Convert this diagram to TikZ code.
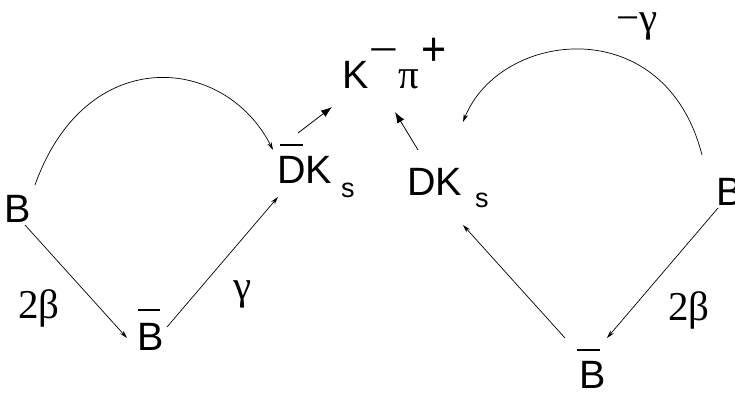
\documentclass[tikz,border=0pt]{standalone}
\usepackage{fontspec}
\setmainfont{Liberation Sans}
\newfontfamily\grk{Liberation Serif}
\usetikzlibrary{calc,arrows.meta}
\tikzset{
  lbl/.style={inner sep=0pt,outer sep=0pt,anchor=base west,font=\fontsize{39.5}{42}\selectfont},
  sub/.style={inner sep=0pt,outer sep=0pt,anchor=base west,font=\fontsize{27}{29}\selectfont},
  greek/.style={inner sep=0pt,outer sep=0pt,font=\grk\fontsize{41}{43}\selectfont},
  arr/.style={line width=0.7pt,-{Stealth[length=8pt,width=4.5pt]}},
  bigarr/.style={line width=0.8pt,-{Latex[length=11pt,width=8pt]}},
  bar/.style={line width=1.3pt}
}
\begin{document}
\begin{tikzpicture}[x=1pt,y=-1pt]
\clip (0,0) rectangle (735,392);
% nodes
\node[lbl] (Bl) at (5,222) {B};
\node[lbl] (Bbl) at (137,350) {B};
\node[lbl] (DKl) at (277,183) {DK};
\node[sub] (sl) at (341,197) {s};
\node[lbl] (DKr) at (407,195) {DK};
\node[sub] (sr) at (475,207) {s};
\node[lbl] (Kn) at (342,88) {K};
\node[inner sep=0pt,font=\fontsize{40}{42}\selectfont] (mn) at (383.5,55) {\scalebox{1.25}[0.8]{−}};
\node[lbl,font=\grk\fontsize{41}{43}\selectfont] (pin) at (398,88) {π};
\node[inner sep=0pt,font=\fontsize{43}{45}\selectfont] (pl) at (434,52) {\scalebox{1}[1.1]{+}};
\node[lbl] (Br) at (716,205) {B};
\node[lbl] (Bbr) at (579,388) {B};
\node[greek] (tbl) at (39,308) {2β};
\node[greek] (gl) at (243,294) {γ};
\node[greek] (mg) at (637,26) {−γ};
\node[greek] (tbr) at (689,310) {2β};
% bars
\draw[bar] ($(Bbl.base west)+(1,-40)$) -- ($(Bbl.base west)+(23,-40)$);
\draw[bar] ($(DKl.base west)+(3,-38)$) -- ($(DKl.base west)+(26,-38)$);
\draw[bar] ($(Bbr.base west)+(-2,-38)$) -- ($(Bbr.base west)+(21,-38)$);
% connectors left
\draw[arr] ($(Bl.base west)+(20,3)$) -- ($(Bbl.base west)+(-10,-12)$);
\draw[arr] ($(Bbl.base west)+(30,-23)$) -- ($(DKl.base west)+(1,14)$);
\draw[arr] ($(Bl.base west)+(30,-37)$) .. controls (86,42) and (225,55) .. ($(DKl.base west)+(-4,-33)$);
\draw[bigarr] ($(DKl.base west)+(21,-50)$) -- ($(Kn.base west)+(-10,19)$);
% connectors right
\draw[bigarr] ($(DKr.base west)+(11,-45)$) -- ($(Kn.base west)+(53,24)$);
\draw[arr] ($(Br.base west)+(2,3)$) -- ($(Bbr.base west)+(28,-50)$);
\draw[arr] ($(Bbr.base west)+(-14,-50)$) -- ($(DKr.base west)+(56,30)$);
\draw[arr] ($(Br.base west)+(-14,-50)$) .. controls (665,10) and (500,30) .. ($(DKr.base west)+(56,-73)$);
\end{tikzpicture}
\end{document}
